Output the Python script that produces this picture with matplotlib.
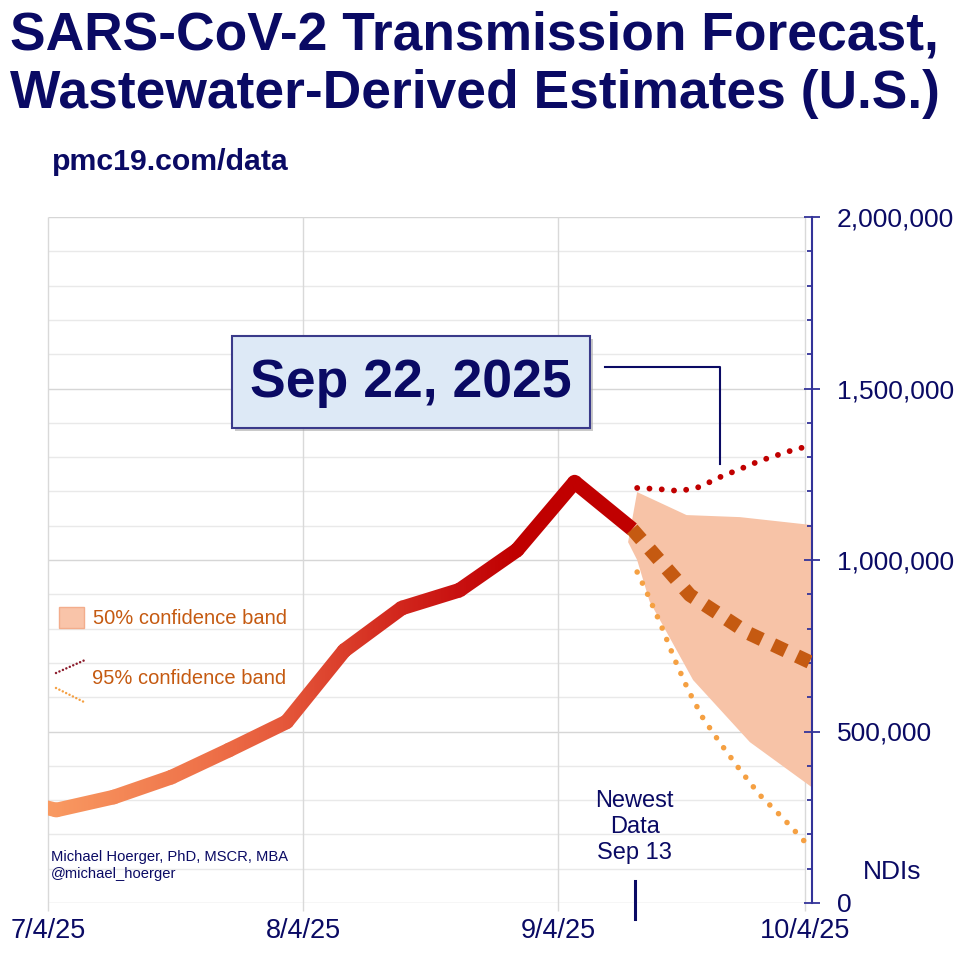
import numpy as np
import matplotlib
matplotlib.use("Agg")
import matplotlib.pyplot as plt
from matplotlib.colors import LinearSegmentedColormap
from matplotlib.patches import Rectangle
from matplotlib.lines import Line2D
from matplotlib.path import Path
from matplotlib.transforms import IdentityTransform

plt.rcParams['font.family'] = ['Liberation Sans', 'DejaVu Sans']

NAVY = '#0a0a64'

# x values are days after 7/4/25
tick_days = [0, 31, 62, 92]
tick_labels = ['7/4/25', '8/4/25', '9/4/25', '10/4/25']

# weekly wastewater-derived estimates (new daily infections)
obs_days = [-6, 1, 8, 15, 22, 29, 36, 43, 50, 57, 64, 71]
obs_ndi = [313000, 271000, 309000, 367000, 446000, 528000, 736000, 860000,
           912000, 1029000, 1227000, 1090000]

# forecast median
fc_days = [71, 78, 85, 92.8]
fc_ndi = [1090000, 898000, 788000, 700000]

# 50% band
b50_up_days = [70.5, 71.6, 77.6, 84.1, 92.8]
b50_up = [1052000, 1198000, 1131000, 1125000, 1102000]
b50_lo_days = [70.5, 71.6, 73.1, 78.4, 85.3, 92.8]
b50_lo = [1052000, 1000000, 880000, 650000, 469000, 338000]

# 95% band
b95_up_days = [71.6, 74.1, 76.8, 79.2, 81.7, 84.1, 86.5, 90.2, 92.8]
b95_up = [1210000, 1207000, 1201000, 1213000, 1242000, 1265000, 1289000,
          1318000, 1335000]
b95_lo_days = [71.6, 72.8, 74.4, 76.2, 77.8, 79.6, 81.7, 84.1, 86.5, 89.3, 92, 92.8]
b95_lo = [965000, 904000, 816000, 708000, 621000, 539000, 466000, 388000,
          315000, 248000, 178000, 160000]


def fx(px):
    return px / 960.0


def fy(py):
    return 1 - py / 960.0


fig = plt.figure(figsize=(9.6, 9.6), dpi=100)
ax = fig.add_axes([fx(48), fy(903), fx(812) - fx(48), fy(217) - fy(903)])
XLIM = (0, 92.85)
YLIM = (0, 2000000)
ax.set_xlim(*XLIM)
ax.set_ylim(*YLIM)

# grid
for v in range(0, 2000001, 100000):
    major = v % 500000 == 0
    ax.hlines(v, 0, 92, color='#d6d6d6' if major else '#e9e9e9', lw=1.0, zorder=0)
ax.vlines(tick_days, -22000, 2000000, color='#d9d9d9', lw=1.0, zorder=0, clip_on=False)

# 50% band
poly_x = b50_up_days + b50_lo_days[::-1]
poly_y = b50_up + b50_lo[::-1]
ax.fill(poly_x, poly_y, color='#f7c3a7', lw=0, zorder=1)

# 95% band dotted lines
ax.plot(b95_up_days, b95_up, color='#c00000', lw=4.2, dashes=(0.01, 2.1),
        dash_capstyle='round', zorder=3)
ax.plot(b95_lo_days, b95_lo, color='#f5a042', lw=4.0, dashes=(0.01, 2.2),
        dash_capstyle='round', zorder=3)

# observed line: thick stroke filled with a left-to-right colour gradient
cmap = LinearSegmentedColormap.from_list(
    'ndi', [(0, '#f99a62'), (0.35, '#ee7048'), (0.5, '#e5583b'),
            (0.72, '#d42c20'), (0.88, '#c81010'), (1, '#c00000')])
grad_x = np.linspace(-8, 74, 500)
grad = cmap(np.clip(grad_x / 57.0, 0, 1))[np.newaxis, :, :]
half_w = 10.5 * 100 / 72 / 2
disp = ax.transData.transform(np.column_stack([obs_days, obs_ndi]))
clip_paths = []
for p0, p1 in zip(disp[:-1], disp[1:]):
    d = (p1 - p0) / np.hypot(*(p1 - p0))
    n = np.array([-d[1], d[0]]) * half_w
    clip_paths.append(Path([p0 - n, p1 - n, p1 + n, p0 + n, p0 - n], closed=True))
for c in disp[1:-1]:
    clip_paths.append(Path.circle(c, half_w))
for cp in clip_paths:
    im = ax.imshow(grad, extent=[-8, 74, YLIM[0], YLIM[1]], aspect='auto',
                   interpolation='bilinear', zorder=4)
    im.set_clip_path(cp, IdentityTransform())
ax.set_xlim(*XLIM)
ax.set_ylim(*YLIM)

# forecast median
ax.plot(fc_days, fc_ndi, color='#c55a11', lw=10, dashes=(1.0, 0.9),
        dash_capstyle='butt', zorder=5)

# axes styling
for s in ['top', 'left', 'bottom']:
    ax.spines[s].set_visible(False)
ax.spines['right'].set_color('#333399')
ax.spines['right'].set_linewidth(1.5)
ax.yaxis.tick_right()
ax.set_yticks(range(0, 2000001, 500000))
ax.set_yticks(range(0, 2000001, 100000), minor=True)
ax.set_yticklabels(['{:,}'.format(v) for v in range(0, 2000001, 500000)])
ax.tick_params(axis='y', which='major', direction='inout', length=12, width=1.3,
               color='#333399', labelcolor=NAVY, labelsize=19, pad=12)
ax.tick_params(axis='y', which='minor', direction='in', length=3.6, width=1.3,
               color='#333399')
ax.set_xticks(tick_days)
ax.set_xticklabels(tick_labels)
ax.tick_params(axis='x', length=0, labelcolor=NAVY, labelsize=19.5, pad=11)

# newest data marker
ax.plot([71.3, 71.3], [64000, -47000], color=NAVY, lw=2.2, clip_on=False, zorder=6)
ax.text(71.3, 222000, 'Newest\nData\nSep 13', ha='center', va='center',
        color=NAVY, fontsize=17, linespacing=1.25)

# date callout connector
ax.plot([67.7, 81.65, 81.65], [1563000, 1563000, 1280000], color=NAVY, lw=1.5,
        clip_on=False, zorder=6)

# titles
fig.text(fx(10), fy(50), 'SARS-CoV-2 Transmission Forecast,', fontsize=38.4,
         fontweight='bold', color=NAVY, va='baseline')
fig.text(fx(10), fy(108), 'Wastewater-Derived Estimates (U.S.)', fontsize=38.4,
         fontweight='bold', color=NAVY, va='baseline')
fig.text(fx(52), fy(170), 'pmc19.com/data', fontsize=21.8, fontweight='bold',
         color=NAVY, va='baseline')

# date box
fig.add_artist(Rectangle((fx(235), fy(431)), fx(358), 92 / 960, transform=fig.transFigure,
                         facecolor='#a8a8a8', edgecolor='none', alpha=0.6, zorder=7))
fig.add_artist(Rectangle((fx(232), fy(428)), fx(358), 92 / 960, transform=fig.transFigure,
                         facecolor='#dde9f6', edgecolor='#3a3a8a', lw=1.5, zorder=8))
fig.text(fx(411), fy(383), 'Sep 22, 2025', fontsize=38.5, fontweight='bold',
         color=NAVY, ha='center', va='center', zorder=9)

# legend
fig.add_artist(Rectangle((fx(59), fy(628)), fx(25), 21 / 960, transform=fig.transFigure,
                         facecolor='#f9c4a9', edgecolor='#f3ad8c', lw=1.0))
fig.text(fx(93), fy(618), '50% confidence band', fontsize=14.5, color='#c55a11',
         va='center')
fig.add_artist(Line2D([fx(56), fx(85)], [fy(673), fy(660)], transform=fig.transFigure,
                      color='#8b1a2a', lw=1.8, dashes=(0.01, 1.5), dash_capstyle='round'))
fig.add_artist(Line2D([fx(56), fx(86)], [fy(688), fy(703)], transform=fig.transFigure,
                      color='#f5a042', lw=1.8, dashes=(0.01, 1.5), dash_capstyle='round'))
fig.text(fx(92), fy(678), '95% confidence band', fontsize=14.5, color='#c55a11',
         va='center')

# credits
fig.text(fx(51), fy(857), 'Michael Hoerger, PhD, MSCR, MBA', fontsize=10.6,
         color=NAVY, va='center')
fig.text(fx(51), fy(874), '@michael_hoerger', fontsize=10.6, color=NAVY, va='center')

fig.text(fx(863), fy(872), 'NDIs', fontsize=19, color=NAVY, va='center')

fig.savefig('out.png', dpi=100)
